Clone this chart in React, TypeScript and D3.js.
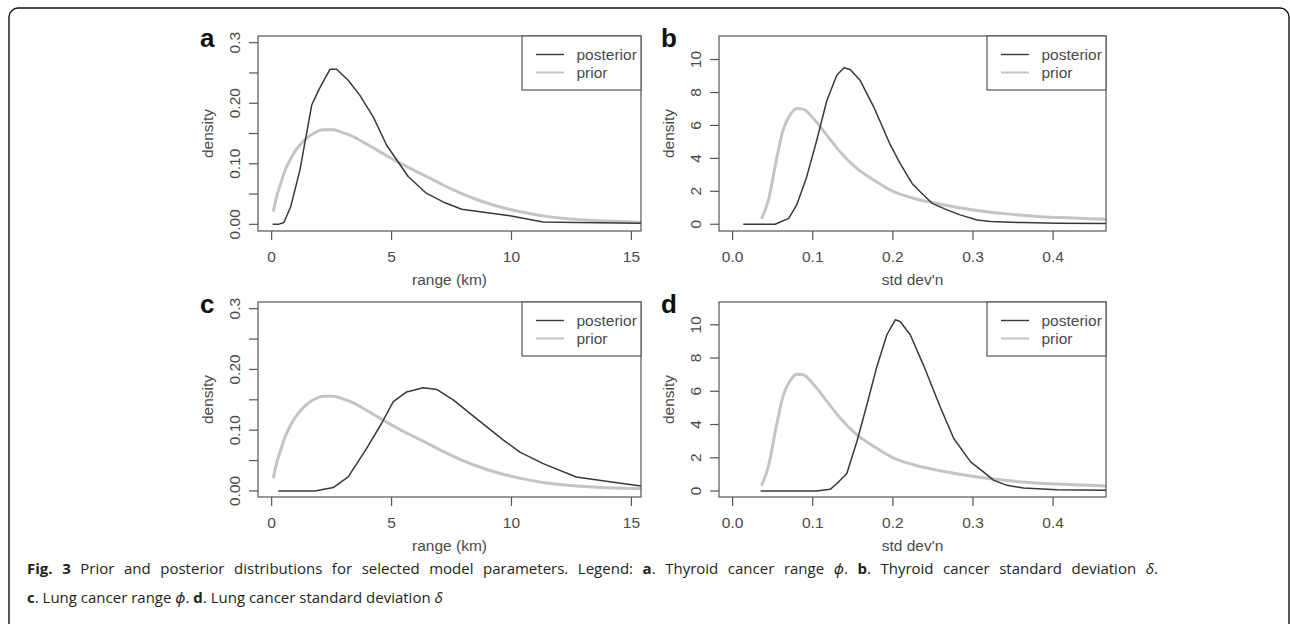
import React, { useEffect, useRef } from "react";
import * as d3 from "d3";

// range (km) prior, shared by panels a and c
const rangePriorX = [0.07, 0.2, 0.35, 0.55, 0.76, 1.0, 1.18, 1.45, 1.74, 2.15, 2.57, 3.0, 3.4, 3.9, 4.38, 4.85, 5.35, 5.9, 6.46, 7.15, 7.85, 8.55, 9.24, 9.9, 10.6, 11.3, 12.0, 12.7, 13.4, 14.4, 15.4];
const rangePriorY = [0.021, 0.045, 0.064, 0.088, 0.106, 0.122, 0.131, 0.142, 0.15, 0.156, 0.156, 0.151, 0.145, 0.134, 0.123, 0.112, 0.101, 0.09, 0.079, 0.065, 0.052, 0.041, 0.032, 0.025, 0.019, 0.014, 0.0105, 0.0082, 0.0064, 0.0048, 0.0036];

// panel a posterior
const thyroidRangeX = [0.04, 0.28, 0.51, 0.8, 1.18, 1.67, 1.99, 2.43, 2.71, 3.19, 3.68, 4.24, 4.79, 5.69, 6.46, 7.15, 7.92, 9.93, 11.32, 12.7, 15.4];
const thyroidRangeY = [0, 0, 0.003, 0.03, 0.09, 0.197, 0.224, 0.256, 0.256, 0.238, 0.213, 0.177, 0.131, 0.079, 0.051, 0.037, 0.025, 0.014, 0.004, 0.003, 0.002];

// panel c posterior
const lungRangeX = [0.28, 1.8, 2.57, 3.19, 3.96, 4.58, 5.07, 5.63, 6.32, 6.88, 7.57, 8.54, 9.65, 10.35, 11.32, 12.7, 14.1, 15.4];
const lungRangeY = [0, 0, 0.0055, 0.023, 0.07, 0.111, 0.147, 0.163, 0.17, 0.167, 0.15, 0.119, 0.084, 0.064, 0.045, 0.023, 0.015, 0.008];

// std dev'n prior, shared by panels b and d
const sdPriorX = [0.036, 0.0446, 0.055, 0.063, 0.0717, 0.08, 0.088, 0.1008, 0.1175, 0.134, 0.155, 0.176, 0.201, 0.226, 0.259, 0.301, 0.3425, 0.384, 0.425, 0.466];
const sdPriorY = [0.32, 1.47, 4.0, 5.72, 6.63, 7.03, 6.99, 6.42, 5.41, 4.4, 3.39, 2.69, 1.98, 1.58, 1.22, 0.87, 0.63, 0.46, 0.38, 0.3];

// panel b posterior
const thyroidSdX = [0.0133, 0.053, 0.07, 0.08, 0.0925, 0.105, 0.1175, 0.13, 0.139, 0.1467, 0.159, 0.176, 0.197, 0.209, 0.224, 0.236, 0.249, 0.2675, 0.284, 0.305, 0.322, 0.363, 0.405, 0.466];
const thyroidSdY = [0, 0, 0.36, 1.17, 2.89, 5.1, 7.5, 9.05, 9.5, 9.4, 8.75, 7.13, 4.8, 3.7, 2.48, 1.88, 1.27, 0.87, 0.57, 0.26, 0.16, 0.1, 0.06, 0.04];

// panel d posterior
const lungSdX = [0.035, 0.105, 0.1217, 0.13, 0.1425, 0.155, 0.1675, 0.18, 0.1925, 0.203, 0.209, 0.2217, 0.238, 0.259, 0.276, 0.297, 0.313, 0.326, 0.3425, 0.363, 0.405, 0.466];
const lungSdY = [0, 0, 0.1, 0.44, 1.05, 2.96, 5.17, 7.48, 9.4, 10.3, 10.2, 9.4, 7.59, 5.07, 3.16, 1.75, 1.15, 0.64, 0.34, 0.18, 0.08, 0.04];

const rangeTicks = [0, 5, 10, 15];
const rangeTickLabels = ["0", "5", "10", "15"];
const sdTicks = [0, 0.1, 0.2, 0.3, 0.4];
const sdTickLabels = ["0.0", "0.1", "0.2", "0.3", "0.4"];
const rangeDensityTicks = [0, 0.05, 0.1, 0.15, 0.2, 0.25, 0.3];
const rangeDensityLabels = ["0.00", "", "0.10", "", "0.20", "", "0.3"];
const sdDensityTicks = [0, 2, 4, 6, 8, 10];
const sdDensityLabels = ["0", "2", "4", "6", "8", "10"];

const seriesNames = ["posterior", "prior"];

const zip = (xs, ys) => xs.map((x, i) => [x, ys[i]]);

const panels = [
  {
    letter: "a", left: 258, right: 641, top: 36, bottom: 231,
    xDomain: [-0.57, 15.4], yDomain: [-0.011, 0.311],
    xTicks: rangeTicks, xLabels: rangeTickLabels, yTicks: rangeDensityTicks, yLabels: rangeDensityLabels,
    xTitle: "range (km)", post: zip(thyroidRangeX, thyroidRangeY), prior: zip(rangePriorX, rangePriorY),
  },
  {
    letter: "b", left: 719, right: 1106, top: 36, bottom: 231,
    xDomain: [-0.017, 0.466], yDomain: [-0.41, 11.43],
    xTicks: sdTicks, xLabels: sdTickLabels, yTicks: sdDensityTicks, yLabels: sdDensityLabels,
    xTitle: "std dev'n", post: zip(thyroidSdX, thyroidSdY), prior: zip(sdPriorX, sdPriorY),
  },
  {
    letter: "c", left: 258, right: 641, top: 302, bottom: 497,
    xDomain: [-0.57, 15.4], yDomain: [-0.01, 0.311],
    xTicks: rangeTicks, xLabels: rangeTickLabels, yTicks: rangeDensityTicks, yLabels: rangeDensityLabels,
    xTitle: "range (km)", post: zip(lungRangeX, lungRangeY), prior: zip(rangePriorX, rangePriorY),
  },
  {
    letter: "d", left: 719, right: 1106, top: 302, bottom: 497,
    xDomain: [-0.017, 0.466], yDomain: [-0.36, 11.37],
    xTicks: sdTicks, xLabels: sdTickLabels, yTicks: sdDensityTicks, yLabels: sdDensityLabels,
    xTitle: "std dev'n", post: zip(lungSdX, lungSdY), prior: zip(sdPriorX, sdPriorY),
  },
];

const AXIS = "#555";
const TEXT = "#4a4a4a";
const POST = "#383838";
const PRIOR = "#c4c4c4";
const FONT = "'Liberation Sans', Arial, sans-serif";

const App = () => {
  const ref = useRef(null);

  useEffect(() => {
    const svg = d3.select(ref.current);
    svg.selectAll("*").remove();

    // figure frame
    svg.append("rect")
      .attr("x", 9).attr("y", 8).attr("width", 1280).attr("height", 640)
      .attr("rx", 9).attr("fill", "none").attr("stroke", "#111").attr("stroke-width", 1.4);

    panels.forEach((p, pi) => {
      const x = d3.scaleLinear().domain(p.xDomain).range([p.left, p.right]);
      const y = d3.scaleLinear().domain(p.yDomain).range([p.bottom, p.top]);
      const g = svg.append("g");

      g.append("clipPath").attr("id", "clip" + pi)
        .append("rect").attr("x", p.left).attr("y", p.top)
        .attr("width", p.right - p.left).attr("height", p.bottom - p.top);

      const line = d3.line().x((d) => x(d[0])).y((d) => y(d[1]));
      const smooth = d3.line().x((d) => x(d[0])).y((d) => y(d[1])).curve(d3.curveMonotoneX);

      g.append("path").attr("d", smooth(p.prior)).attr("fill", "none")
        .attr("stroke", PRIOR).attr("stroke-width", 3).attr("clip-path", `url(#clip${pi})`);
      g.append("path").attr("d", line(p.post)).attr("fill", "none")
        .attr("stroke", POST).attr("stroke-width", 1.5).attr("stroke-linejoin", "round")
        .attr("clip-path", `url(#clip${pi})`);

      // box
      g.append("rect").attr("x", p.left).attr("y", p.top)
        .attr("width", p.right - p.left).attr("height", p.bottom - p.top)
        .attr("fill", "none").attr("stroke", AXIS).attr("stroke-width", 1.2);

      // x axis
      p.xTicks.forEach((t, i) => {
        g.append("line").attr("x1", x(t)).attr("x2", x(t))
          .attr("y1", p.bottom).attr("y2", p.bottom + 9)
          .attr("stroke", AXIS).attr("stroke-width", 1.2);
        g.append("text").attr("x", x(t)).attr("y", p.bottom + 25)
          .attr("text-anchor", "middle").attr("dominant-baseline", "central")
          .attr("font-family", FONT).attr("font-size", 15.5).attr("fill", TEXT)
          .text(p.xLabels[i]);
      });
      g.append("text").attr("x", (p.left + p.right) / 2).attr("y", p.bottom + 48.5)
        .attr("text-anchor", "middle").attr("dominant-baseline", "central")
        .attr("font-family", FONT).attr("font-size", 15.5).attr("fill", TEXT)
        .text(p.xTitle);

      // y axis
      p.yTicks.forEach((t, i) => {
        g.append("line").attr("x1", p.left - 9).attr("x2", p.left)
          .attr("y1", y(t)).attr("y2", y(t))
          .attr("stroke", AXIS).attr("stroke-width", 1.2);
        if (p.yLabels[i]) {
          g.append("text")
            .attr("transform", `translate(${p.left - 23.5},${y(t)}) rotate(-90)`)
            .attr("text-anchor", "middle").attr("dominant-baseline", "central")
            .attr("font-family", FONT).attr("font-size", 15.5).attr("fill", TEXT)
            .text(p.yLabels[i]);
        }
      });
      g.append("text")
        .attr("transform", `translate(${p.left - 51},${(p.top + p.bottom) / 2}) rotate(-90)`)
        .attr("text-anchor", "middle").attr("dominant-baseline", "central")
        .attr("font-family", FONT).attr("font-size", 15.5).attr("fill", TEXT)
        .text("density");

      // legend
      const lw = 119;
      const lx = p.right - lw;
      g.append("rect").attr("x", lx).attr("y", p.top).attr("width", lw).attr("height", 54)
        .attr("fill", "white").attr("stroke", AXIS).attr("stroke-width", 1.2);
      seriesNames.forEach((name, i) => {
        const ly = p.top + 18.5 + i * 18;
        g.append("line").attr("x1", lx + 14).attr("x2", lx + 42).attr("y1", ly).attr("y2", ly)
          .attr("stroke", i === 0 ? POST : PRIOR).attr("stroke-width", i === 0 ? 1.4 : 2);
        g.append("text").attr("x", lx + 54.5).attr("y", ly)
          .attr("dominant-baseline", "central")
          .attr("font-family", FONT).attr("font-size", 15.5).attr("fill", TEXT)
          .text(name);
      });

      // panel letter
      g.append("text").attr("x", p.left - 58).attr("y", p.top + 10.5)
        .attr("font-family", FONT).attr("font-size", 26).attr("font-weight", "bold")
        .attr("fill", "#111").text(p.letter);
    });

    // caption (first line justified to the full width)
    const cap = [
      [["Fig. 3", "b"], [" Prior and posterior distributions for selected model parameters. Legend: ", ""], ["a", "b"], [". Thyroid cancer range ", ""], ["ϕ", "i"], [". ", ""], ["b", "b"], [". Thyroid cancer standard deviation ", ""], ["δ", "i"], [".", ""]],
      [["c", "b"], [". Lung cancer range ", ""], ["ϕ", "i"], [". ", ""], ["d", "b"], [". Lung cancer standard deviation ", ""], ["δ", "i"]],
    ];
    cap.forEach((parts, li) => {
      const t = svg.append("text").attr("x", 27).attr("y", 574 + li * 28.5)
        .attr("font-family", "'Open Sans', 'Noto Sans', sans-serif").attr("font-size", 15)
        .attr("fill", "#231f20").attr("xml:space", "preserve");
      parts.forEach(([s, f]) => {
        t.append("tspan")
          .attr("font-weight", f === "b" ? "bold" : "normal")
          .attr("font-style", f === "i" ? "italic" : "normal")
          .text(s);
      });
      if (li === 0) {
        const node = t.node();
        const len = node.getComputedTextLength();
        const spaces = parts.map((d) => d[0]).join("").split(" ").length - 1;
        if (len > 0 && spaces > 0) t.attr("word-spacing", (1131 - len) / spaces);
      }
    });
  }, []);

  return (
    <svg ref={ref} width={1290} height={624}
      style={{ position: "absolute", left: 0, top: 0, background: "white" }} />
  );
};

export default App;
